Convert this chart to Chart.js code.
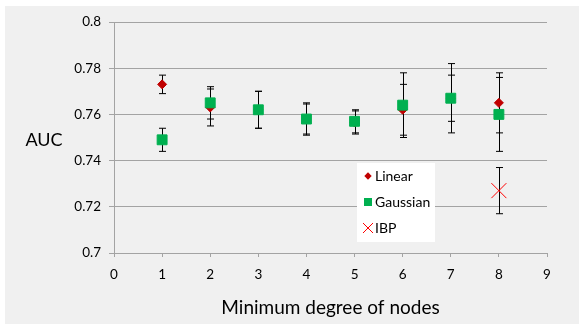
<!DOCTYPE html>
<html>
<head>
<meta charset="utf-8">
<script src="https://cdn.jsdelivr.net/npm/chart.js@4"></script>
<style>
  body { margin: 0; background: #fff; }
  #wrap { width: 579px; height: 324px; }
</style>
</head>
<body>
<div id="wrap"><canvas id="myChart"></canvas></div>
<script>
  // data
  const degrees = [1, 2, 3, 4, 5, 6, 7, 8];
  const linearAuc = [0.773, 0.763, 0.762, 0.758, 0.7565, 0.762, 0.767, 0.765];
  const linearErr = [0.004, 0.008, 0.008, 0.0065, 0.005, 0.011, 0.010, 0.013];
  const gaussianAuc = [0.749, 0.765, 0.762, 0.758, 0.757, 0.764, 0.767, 0.760];
  const gaussianErr = [0.005, 0.007, 0.008, 0.007, 0.005, 0.014, 0.015, 0.016];
  const ibpDegree = [8];
  const ibpAuc = [0.727];
  const ibpErr = [0.010];

  const gray = '#a3a3a3';
  const fontFamily = 'Lato, "Noto Sans", sans-serif';

  const toPoints = (xs, ys) => xs.map((x, i) => ({ x: x, y: ys[i] }));

  const data = {
    datasets: [
      {
        label: 'Linear',
        data: toPoints(degrees, linearAuc),
        errors: linearErr,
        pointStyle: 'rectRot',
        pointRadius: 4.5,
        backgroundColor: '#c00000',
        borderColor: '#c00000',
        borderWidth: 1,
        order: 3
      },
      {
        label: 'Gaussian',
        data: toPoints(degrees, gaussianAuc),
        errors: gaussianErr,
        pointStyle: 'rect',
        pointRadius: 7,
        backgroundColor: '#00b050',
        borderColor: '#00b050',
        borderWidth: 1,
        order: 2
      },
      {
        label: 'IBP',
        data: toPoints(ibpDegree, ibpAuc),
        errors: ibpErr,
        pointStyle: 'crossRot',
        pointRadius: 10.6,
        backgroundColor: '#ff0000',
        borderColor: '#ff0000',
        borderWidth: 1,
        order: 1
      }
    ]
  };

  // gray plot background behind everything
  const backdrop = {
    id: 'backdrop',
    beforeDraw(chart) {
      const ctx = chart.ctx;
      ctx.save();
      ctx.fillStyle = '#f0f0f0';
      ctx.fillRect(5, 6, chart.width - 5, chart.height - 6);
      ctx.restore();
    }
  };

  // vertical error bars with caps, under the markers
  const errorBars = {
    id: 'errorBars',
    beforeDatasetsDraw(chart) {
      const ctx = chart.ctx;
      const xs = chart.scales.x, ys = chart.scales.y;
      ctx.save();
      ctx.strokeStyle = '#000';
      ctx.lineWidth = 1;
      chart.data.datasets.forEach(ds => {
        ds.data.forEach((p, i) => {
          const e = ds.errors[i];
          const px = Math.round(xs.getPixelForValue(p.x)) + 0.5;
          const top = ys.getPixelForValue(p.y + e);
          const bot = ys.getPixelForValue(p.y - e);
          ctx.beginPath();
          ctx.moveTo(px, top);
          ctx.lineTo(px, bot);
          ctx.moveTo(px - 3.5, top);
          ctx.lineTo(px + 3.5, top);
          ctx.moveTo(px - 3.5, bot);
          ctx.lineTo(px + 3.5, bot);
          ctx.stroke();
        });
      });
      ctx.restore();
    }
  };

  // horizontal y title and the boxed legend inside the plot
  const extras = {
    id: 'extras',
    afterDraw(chart) {
      const ctx = chart.ctx;
      ctx.save();
      ctx.fillStyle = '#000';
      ctx.font = '18px ' + fontFamily;
      ctx.textAlign = 'center';
      ctx.textBaseline = 'middle';
      ctx.fillText('AUC', 44, 140);

      ctx.fillStyle = '#fff';
      ctx.fillRect(357, 163, 78, 79);

      const rows = [176, 202, 228];
      const mx = 368;
      // Linear diamond
      ctx.fillStyle = '#c00000';
      ctx.beginPath();
      ctx.moveTo(mx, rows[0] - 3.7);
      ctx.lineTo(mx + 3.7, rows[0]);
      ctx.lineTo(mx, rows[0] + 3.7);
      ctx.lineTo(mx - 3.7, rows[0]);
      ctx.closePath();
      ctx.fill();
      // Gaussian square
      ctx.fillStyle = '#00b050';
      ctx.fillRect(mx - 4, rows[1] - 4, 8, 8);
      // IBP cross
      ctx.strokeStyle = '#ff0000';
      ctx.lineWidth = 1;
      ctx.beginPath();
      ctx.moveTo(mx - 5, rows[2] - 5);
      ctx.lineTo(mx + 5, rows[2] + 5);
      ctx.moveTo(mx + 5, rows[2] - 5);
      ctx.lineTo(mx - 5, rows[2] + 5);
      ctx.stroke();

      ctx.fillStyle = '#000';
      ctx.font = '14px ' + fontFamily;
      ctx.textAlign = 'left';
      chart.data.datasets.forEach((ds, i) => {
        ctx.fillText(ds.label, 375, rows[i] + 0.5);
      });
      ctx.restore();
    }
  };

  const config = {
    type: 'scatter',
    data,
    options: {
      responsive: true,
      maintainAspectRatio: false,
      animation: false,
      layout: {
        padding: { left: 0, right: 32, top: 22, bottom: 0 }
      },
      scales: {
        x: {
          type: 'linear',
          min: 0,
          max: 9,
          afterFit(scale) { scale.height = 71; },
          ticks: {
            stepSize: 1,
            padding: 10,
            color: '#000',
            font: { family: fontFamily, size: 13.5 }
          },
          grid: { drawOnChartArea: false, color: gray, tickLength: 4 },
          border: { color: gray },
          title: {
            display: true,
            text: 'Minimum degree of nodes',
            color: '#000',
            font: { family: fontFamily, size: 19 },
            padding: { top: 4, bottom: 5 }
          }
        },
        y: {
          min: 0.7,
          max: 0.8,
          afterFit(scale) { scale.width = 114; },
          ticks: {
            stepSize: 0.02,
            padding: 8,
            color: '#000',
            font: { family: fontFamily, size: 13.5 },
            callback: v => String(parseFloat(v.toFixed(2)))
          },
          grid: { color: gray, tickLength: 5 },
          border: { color: gray }
        }
      },
      plugins: {
        legend: { display: false },
        tooltip: { enabled: false }
      }
    },
    plugins: [backdrop, errorBars, extras]
  };

  const myChart = new Chart(document.getElementById('myChart'), config);
</script>
</body>
</html>
